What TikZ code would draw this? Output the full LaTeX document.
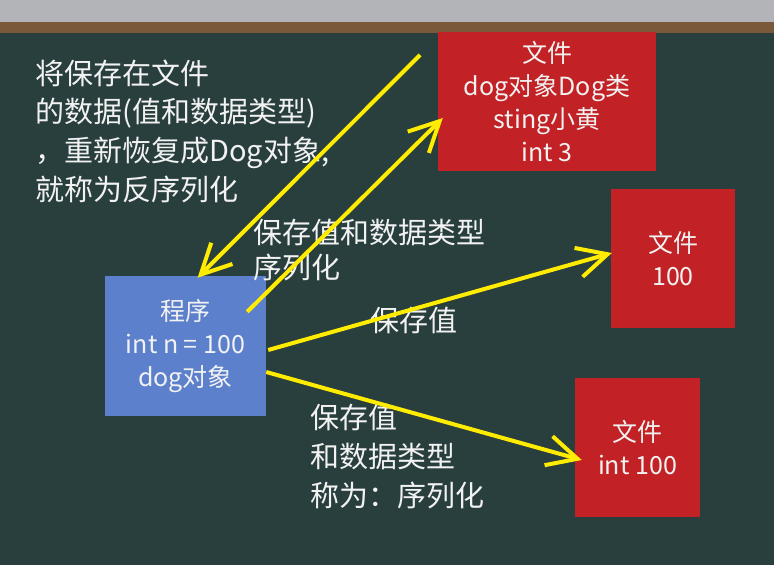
\documentclass[tikz,border=0pt]{standalone}
\usepackage{fontspec}
\newfontfamily\cjkfont{Noto Sans CJK SC}
\usetikzlibrary{arrows.meta}
\definecolor{boardgreen}{RGB}{41,63,62}
\definecolor{boardwood}{RGB}{122,88,58}
\definecolor{wallgray}{RGB}{178,180,184}
\definecolor{filered}{RGB}{194,34,37}
\definecolor{progblue}{RGB}{92,128,204}
\definecolor{chalkyellow}{RGB}{255,236,0}
\definecolor{chalkwhite}{RGB}{242,242,242}

\begin{document}
\begin{tikzpicture}[x=1pt,y=-1pt,font=\cjkfont,
  filebox/.style={fill=filered,text=chalkwhite,inner sep=0pt,align=center,font=\cjkfont\fontsize{25}{33}\selectfont},
  progbox/.style={filebox,fill=progblue},
  lbl/.style={text=chalkwhite,inner sep=0pt,align=left,anchor=west},
  arr/.style={draw=chalkyellow,line width=4pt,-{Straight Barb[length=30pt,width=30pt]}}]
\useasboundingbox (0,0) rectangle (774,565);
\fill[wallgray] (0,0) rectangle (774,22);
\fill[boardwood] (0,22) rectangle (774,33);
\fill[boardgreen] (0,33) rectangle (774,565);
\node[progbox,minimum width=161pt,minimum height=140pt] (prog) at (185.5,346) {程序\\int n = 100\\dog对象};
\node[filebox,minimum width=218pt,minimum height=139pt] (file1) at (547,101.5) {文件\\dog对象Dog类\\sting小黄\\int 3};
\node[filebox,minimum width=124pt,minimum height=139pt] (file2) at (673,258.5) {文件\\100};
\node[filebox,minimum width=125pt,minimum height=139pt] (file3) at (637.5,447.5) {文件\\int 100};
\node[lbl,font=\cjkfont\fontsize{29}{38.7}\selectfont] (deser) at (35,131) {将保存在文件\\的数据(值和数据类型)\\，重新恢复成Dog对象,\\就称为反序列化};
\node[lbl,font=\cjkfont\fontsize{29}{35}\selectfont] (ser1) at (253,250.5) {保存值和数据类型\\序列化};
\node[lbl,font=\cjkfont\fontsize{29}{38}\selectfont] (ser2) at (370,320) {保存值};
\node[lbl,font=\cjkfont\fontsize{29}{39}\selectfont] (ser3) at (310,457) {保存值\\和数据类型\\称为：序列化};
\coordinate (back) at (420,55);
\draw[arr] (back) -- ([shift={(12,2)}]prog.north);
\draw[arr] ([shift={(-19,36)}]prog.north east) -- ([shift={(5,16.5)}]file1.west);
\draw[arr] ([shift={(2,4)}]prog.east) -- ([shift={(1,-5.5)}]file2.west);
\draw[arr] ([shift={(0,26)}]prog.east) -- ([shift={(7,12.5)}]file3.west);
\end{tikzpicture}
\end{document}
